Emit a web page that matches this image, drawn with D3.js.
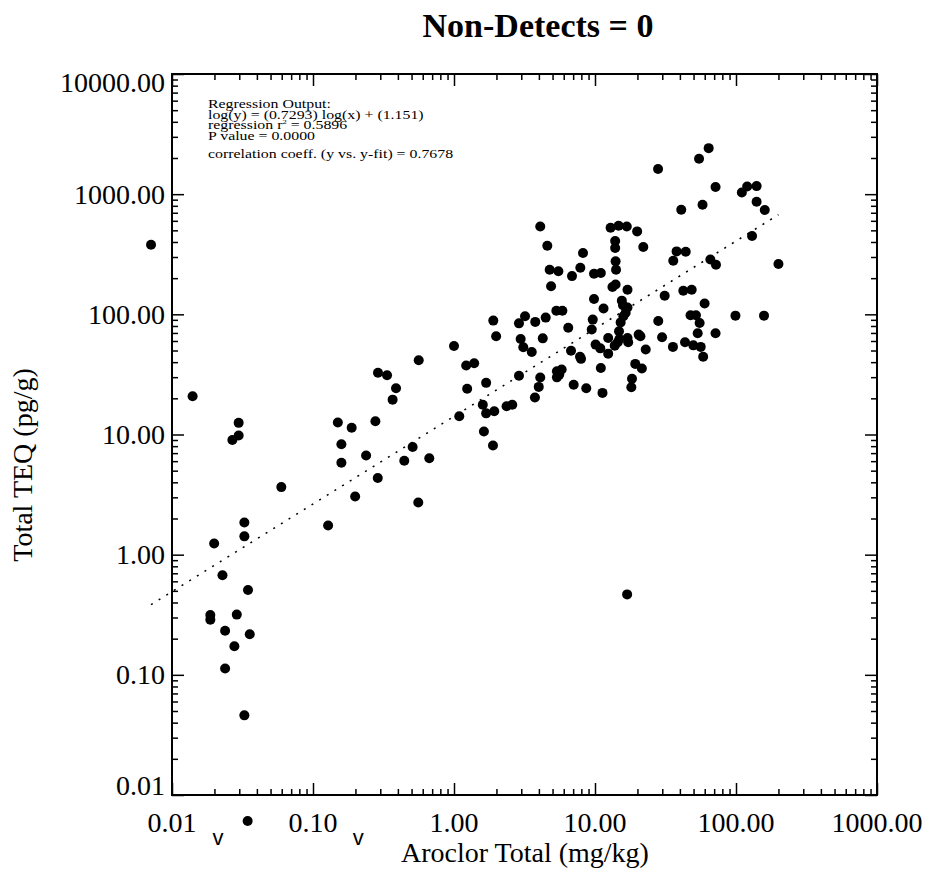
<!DOCTYPE html>
<html>
<head>
<meta charset="utf-8">
<script src="https://cdn.jsdelivr.net/npm/d3@7"></script>
<style>
  body { margin: 0; background: #fff; }
  text { font-family: "Liberation Serif", "Times New Roman", serif; fill: #000; }
</style>
</head>
<body>
<div id="wrapper"></div>
<script>
// Aroclor total (mg/kg) and total TEQ (pg/g)
const aroclor = [0.0071,0.0140,0.0297,0.0297,0.0268,0.150,0.159,0.188,0.277,0.289,
  0.335,0.388,0.367,0.562,0.509,0.159,0.238,0.288,0.199,0.128,
  0.0596,0.444,0.668,0.558,0.0199,0.0326,0.0326,0.0228,0.0346,0.0187,
  0.0187,0.0288,0.0238,0.0356,0.0277,0.0238,0.0326,28.0,4.09,4.59,
  12.9,14.7,16.8,19.9,13.9,13.9,22.0,8.22,14.0,14.1,
  7.87,4.77,5.50,6.87,9.84,11.0,4.88,13.3,14.0,17.0,
  31.2,9.84,15.5,15.8,11.5,17.0,16.5,15.9,5.32,5.87,
  1.90,3.19,2.89,3.77,4.47,6.46,9.64,9.48,15.2,14.8,
  28.1,1.99,2.97,3.10,4.26,3.56,12.4,14.9,17.0,17.2,
  20.4,21.0,22.9,29.9,35.7,10.1,10.9,12.4,13.8,14.5,
  6.76,7.83,7.96,11.0,19.3,21.5,18.3,18.1,11.3,8.67,
  7.06,5.37,5.80,5.58,5.37,4.09,3.99,3.75,2.89,1.69,
  1.24,1.22,1.39,1.00,1.09,1.60,1.69,1.93,2.36,2.59,
  1.63,1.89,64.0,54.7,71.6,110,120,140,140,160,
  40.9,57.9,130,37.9,44.0,35.9,65.8,72.1,200,42.3,
  48.5,59.9,99.1,158,47.6,52.0,55.2,43.5,49.8,56.2,
  53.5,71.6,58.5,16.9]
const teq = [380,20.8,12.5,9.8,9.0,12.6,8.3,11.4,12.9,32.6,
  31.1,24.3,19.5,41.5,7.86,5.82,6.68,4.34,3.05,1.75,
  3.65,6.04,6.35,2.72,1.24,1.85,1.42,0.673,0.508,0.315,
  0.288,0.317,0.233,0.218,0.173,0.113,0.046,1618,538,372,
  526,546,538,490,407,356,363,324,276,235,
  244,235,228,208,218,221,171,169,177,160,
  143,134,130,119,112,114,103,96.3,107,107,
  88.7,96.3,84.1,86.5,93.9,77.4,90.4,74.7,85.7,72.2,
  88.1,65.6,62.4,53.2,63.1,48.6,63.6,62.4,63.6,58.5,
  67.8,65.6,50.9,64.4,53.6,56.0,52.1,47.1,54.9,58.5,
  49.7,44.3,42.6,35.8,38.7,35.4,29.1,24.7,22.2,24.3,
  25.9,33.6,34.7,31.5,29.9,29.8,24.9,20.3,30.8,26.9,
  24.0,37.5,39.2,54.5,14.2,17.7,15.0,15.6,17.2,17.7,
  10.6,8.11,2416,1968,1146,1033,1159,1167,865,738,
  741,816,449,334,332,279,286,259,262,157,
  160,123,97.5,97.5,98.2,98.2,84.7,58.5,55.2,53.6,
  69.5,69.5,44.3,0.467]

// markers drawn under the x axis (non-detects)
const ndX = [0.0212, 0.0344, 0.209]
const ndKind = ["v", "dot", "v"]

const xTicks = [0.01, 0.1, 1, 10, 100, 1000]
const yTicks = [0.01, 0.1, 1, 10, 100, 1000, 10000]

const slope = 0.7293, intercept = 1.151
const statLines = ["Regression Output:",
  "log(y) = (0.7293) log(x) + (1.151)",
  "regression r",
  "P value = 0.0000",
  "correlation coeff. (y vs. y-fit) = 0.7678"]

const dim = { width: 928, height: 871, left: 172, right: 877, top: 74, bottom: 795 }

const svg = d3.select("#wrapper").append("svg")
  .attr("width", dim.width).attr("height", dim.height)

const x = d3.scaleLog().domain([0.01, 1000]).range([dim.left, dim.right])
const y = d3.scaleLog().domain([0.01, 10000]).range([dim.bottom, dim.top])

const fmt = d3.format(".2f")
const xMinor = x.ticks().filter(d => !xTicks.some(t => Math.abs(t - d) / t < 1e-6))
const yMinor = y.ticks().filter(d => !yTicks.some(t => Math.abs(t - d) / t < 1e-6))

function tickAxis(axis, pos, vals, size) {
  const g = svg.append("g")
    .attr("transform", pos)
    .call(axis.tickValues(vals).tickSize(size).tickFormat(""))
  g.select(".domain").remove()
  g.selectAll("line").attr("stroke", "#000").attr("stroke-width", 1.5)
}
tickAxis(d3.axisBottom(x), `translate(0,${dim.bottom})`, xTicks, -12)
tickAxis(d3.axisBottom(x), `translate(0,${dim.bottom})`, xMinor, -6)
tickAxis(d3.axisTop(x), `translate(0,${dim.top})`, xTicks, -12)
tickAxis(d3.axisTop(x), `translate(0,${dim.top})`, xMinor, -6)
tickAxis(d3.axisLeft(y), `translate(${dim.left},0)`, yTicks, -12)
tickAxis(d3.axisLeft(y), `translate(${dim.left},0)`, yMinor, -6)
tickAxis(d3.axisRight(y), `translate(${dim.right},0)`, yTicks, -12)
tickAxis(d3.axisRight(y), `translate(${dim.right},0)`, yMinor, -6)

svg.append("rect")
  .attr("x", dim.left).attr("y", dim.top)
  .attr("width", dim.right - dim.left).attr("height", dim.bottom - dim.top)
  .attr("fill", "none").attr("stroke", "#000").attr("stroke-width", 2)

// tick labels
svg.append("g").selectAll("text")
  .data(xTicks).join("text")
  .attr("x", d => x(d)).attr("y", 832)
  .attr("text-anchor", "middle")
  .style("font-size", "28px")
  .text(d => fmt(d))

svg.append("g").selectAll("text")
  .data(yTicks).join("text")
  .attr("x", 165)
  .attr("y", d => Math.min(Math.max(y(d) + 9.5, 92), 795))
  .attr("text-anchor", "end")
  .style("font-size", "28px")
  .text(d => fmt(d))

// titles
svg.append("text")
  .attr("x", 538).attr("y", 37)
  .attr("text-anchor", "middle")
  .style("font-size", "34px").style("font-weight", "bold")
  .text("Non-Detects = 0")

svg.append("text")
  .attr("x", 525).attr("y", 862)
  .attr("text-anchor", "middle")
  .style("font-size", "28px")
  .text("Aroclor Total (mg/kg)")

svg.append("text")
  .attr("transform", "translate(32,465) rotate(-90)")
  .attr("text-anchor", "middle")
  .style("font-size", "28px")
  .text("Total TEQ (pg/g)")

// regression fit, dotted
const xr = d3.extent(aroclor)
const fit = xr.map(v => [v, Math.pow(10, slope * Math.log10(v) + intercept)])
svg.append("path")
  .datum(fit)
  .attr("d", d3.line().x(d => x(d[0])).y(d => y(d[1])))
  .attr("fill", "none").attr("stroke", "#000")
  .attr("stroke-width", 1.6).attr("stroke-dasharray", "2,7")

// points
svg.append("g").selectAll("circle")
  .data(d3.zip(aroclor, teq)).join("circle")
  .attr("cx", d => x(d[0])).attr("cy", d => y(d[1]))
  .attr("r", 5).attr("fill", "#000")

// non-detect markers under the axis
const nd = svg.append("g")
nd.selectAll("circle")
  .data(ndX.filter((d, i) => ndKind[i] === "dot")).join("circle")
  .attr("cx", d => x(d)).attr("cy", 821).attr("r", 5).attr("fill", "#000")
nd.selectAll("text")
  .data(ndX.filter((d, i) => ndKind[i] === "v")).join("text")
  .attr("x", d => x(d)).attr("y", 845)
  .attr("text-anchor", "middle")
  .style("font-family", "Liberation Sans, Arial, sans-serif")
  .style("font-size", "22px")
  .text("v")

// regression summary text
const statY = [108, 119, 129, 140, 158]
const stats = svg.append("g")
  .attr("transform", "translate(208,0) scale(1.22,1)")
stats.selectAll("text")
  .data(statLines).join("text")
  .attr("x", 0).attr("y", (d, i) => statY[i])
  .style("font-size", "13px")
  .each(function (d, i) {
    const t = d3.select(this)
    t.text(d)
    if (i === 2) {
      t.append("tspan").attr("dy", -5).style("font-size", "7px").text("2")
      t.append("tspan").attr("dy", 5).text(" = 0.5896")
    }
  })
</script>
</body>
</html>
